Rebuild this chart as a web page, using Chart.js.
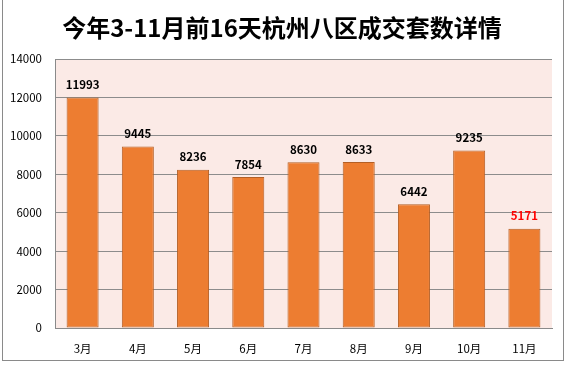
<!DOCTYPE html>
<html>
<head>
<meta charset="utf-8">
<script src="https://cdn.jsdelivr.net/npm/chart.js@4"></script>
<style>
  html, body { margin: 0; padding: 0; background: #fff; }
  #wrap { position: relative; width: 568px; height: 365px; }
  #frame { position: absolute; left: 2px; top: -2px; width: 562px; height: 363px; border: 1px solid #8a8a8a; box-sizing: border-box; pointer-events: none; }
</style>
</head>
<body>
<div id="wrap">
  <canvas id="myChart" width="568" height="365"></canvas>
  <div id="frame"></div>
</div>
<script>
const titleText = "今年3-11月前16天杭州八区成交套数详情";
const months = ["3月", "4月", "5月", "6月", "7月", "8月", "9月", "10月", "11月"];
const deals = [11993, 9445, 8236, 7854, 8630, 8633, 6442, 9235, 5171];
const yTicks = [0, 2000, 4000, 6000, 8000, 10000, 12000, 14000];

const font = "'Noto Sans CJK SC', 'Noto Sans', sans-serif";

// pink plot background and title
const decor = {
  id: 'decor',
  beforeDraw(chart) {
    const { ctx, chartArea: a } = chart;
    ctx.save();
    ctx.fillStyle = '#fbeae6';
    ctx.fillRect(a.left, a.top, a.right - a.left, a.bottom - a.top);
    ctx.restore();
  },
  afterDraw(chart) {
    const { ctx } = chart;
    ctx.save();
    ctx.fillStyle = '#000';
    ctx.font = 'bold 24px ' + font;
    ctx.textAlign = 'center';
    ctx.textBaseline = 'middle';
    ctx.fillText(titleText, 282, 28);
    ctx.restore();
  }
};

// value labels over bars
const valueLabels = {
  id: 'valueLabels',
  afterDatasetsDraw(chart) {
    const { ctx } = chart;
    const meta = chart.getDatasetMeta(0);
    ctx.save();
    ctx.font = 'bold 11.5px ' + font;
    ctx.textAlign = 'center';
    ctx.textBaseline = 'bottom';
    meta.data.forEach((bar, i) => {
      ctx.fillStyle = i === deals.length - 1 ? '#ff0000' : '#000';
      ctx.fillText(String(deals[i]), bar.x, bar.y - 7);
    });
    ctx.restore();
  }
};

new Chart(document.getElementById('myChart'), {
  type: 'bar',
  data: {
    labels: months,
    datasets: [{
      data: deals,
      backgroundColor: '#ed7d31',
      borderColor: '#b45f25',
      borderWidth: 1,
      borderSkipped: false,
      categoryPercentage: 1,
      barPercentage: 0.58
    }]
  },
  options: {
    responsive: false,
    animation: false,
    layout: { padding: { left: 0, right: 16, top: 59, bottom: 0 } },
    plugins: {
      legend: { display: false },
      title: { display: false },
      tooltip: { enabled: false }
    },
    scales: {
      x: {
        grid: { display: false },
        border: { color: '#8a8a8a', width: 1 },
        ticks: { color: '#000', font: { family: font, size: 11.5 }, padding: 6 },
        afterFit(scale) { scale.height = 37; }
      },
      y: {
        min: 0,
        max: 14000,
        afterBuildTicks(scale) { scale.ticks = yTicks.map(v => ({ value: v })); },
        grid: { color: '#8c8c8c', drawTicks: false },
        border: { color: '#8a8a8a', width: 1 },
        ticks: {
          color: '#000',
          font: { family: font, size: 11.5 },
          padding: 13,
          callback: v => String(v)
        },
        afterFit(scale) { scale.width = 55; }
      }
    }
  },
  plugins: [decor, valueLabels]
});
</script>
</body>
</html>
